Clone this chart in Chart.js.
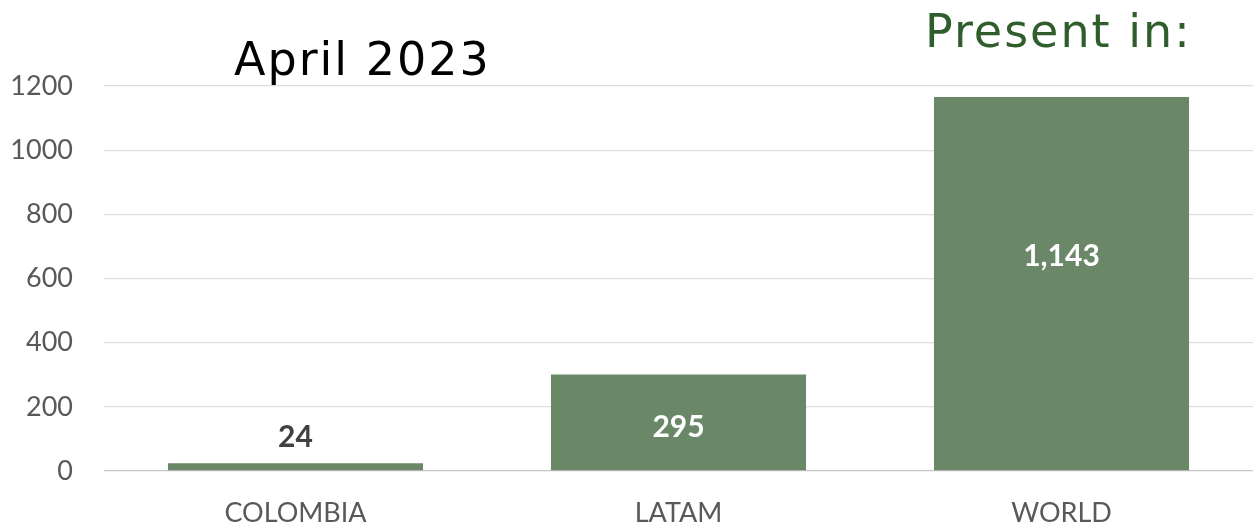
<!DOCTYPE html>
<html>
<head>
<meta charset="utf-8">
<script src="https://cdn.jsdelivr.net/npm/chart.js@4.4.0/dist/chart.umd.min.js"></script>
<style>
  html, body { margin: 0; padding: 0; background: #ffffff; }
  #wrap { width: 1258px; height: 528px; }
</style>
</head>
<body>
<div id="wrap"><canvas id="c" width="1258" height="528"></canvas></div>
<script>
const categories = ["COLOMBIA", "LATAM", "WORLD"];
const barValues = [24, 301, 1166];
const valueLabels = ["24", "295", "1,143"];
const yTicks = [0, 200, 400, 600, 800, 1000, 1200];
const leftTitle = "April 2023";
const rightTitle = "Present in:";

const BAR_COLOR = "#6a8767";

const titlesPlugin = {
  id: "titles",
  afterDraw(chart) {
    const ctx = chart.ctx;
    ctx.save();
    ctx.font = "46px 'DejaVu Sans'";
    ctx.textBaseline = "alphabetic";
    ctx.textAlign = "left";
    if ("letterSpacing" in ctx) ctx.letterSpacing = "2px";
    ctx.fillStyle = "#000000";
    ctx.fillText(leftTitle, 234, 75);
    ctx.fillStyle = "#2f5e2c";
    ctx.fillText(rightTitle, 925, 47);
    ctx.restore();
  }
};

const labelsPlugin = {
  id: "valueLabels",
  afterDatasetsDraw(chart) {
    const ctx = chart.ctx;
    const meta = chart.getDatasetMeta(0);
    ctx.save();
    ctx.font = "bold 30px Lato";
    ctx.textAlign = "center";
    ctx.textBaseline = "middle";
    meta.data.forEach((bar, i) => {
      const top = bar.y, base = bar.base;
      const h = base - top;
      if (h < 40) {
        ctx.fillStyle = "#404040";
        ctx.fillText(valueLabels[i], bar.x, top - 26);
      } else {
        ctx.fillStyle = "#ffffff";
        const y = Math.max(top + 53, (top + base) / 2 - 27);
        ctx.fillText(valueLabels[i], bar.x, y);
      }
    });
    ctx.restore();
  }
};

new Chart(document.getElementById("c"), {
  type: "bar",
  data: {
    labels: categories,
    datasets: [{
      data: barValues,
      backgroundColor: BAR_COLOR,
      borderWidth: 0,
      categoryPercentage: 1.0,
      barPercentage: 0.666
    }]
  },
  options: {
    responsive: false,
    animation: false,
    layout: { padding: { top: 86, right: 5, left: 0, bottom: 0 } },
    plugins: {
      legend: { display: false },
      tooltip: { enabled: false },
      title: { display: false }
    },
    scales: {
      y: {
        min: 0,
        max: 1200,
        afterBuildTicks(scale) {
          scale.ticks = yTicks.map(v => ({ value: v }));
        },
        afterFit(scale) { scale.width = 104; },
        border: { display: false },
        grid: {
          color: (c) => c.tick && c.tick.value === 0 ? "#c6c6c6" : "#dedede",
          lineWidth: 1.3,
          drawTicks: false
        },
        ticks: {
          padding: 31,
          color: "#595959",
          font: { family: "Lato", size: 27 },
          callback: (v) => String(v)
        }
      },
      x: {
        afterFit(scale) { scale.height = 57; },
        border: { display: false },
        grid: { display: false, drawTicks: false },
        ticks: {
          padding: 26,
          color: "#595959",
          font: { family: "Lato", size: 27 }
        }
      }
    }
  },
  plugins: [titlesPlugin, labelsPlugin]
});
</script>
</body>
</html>
